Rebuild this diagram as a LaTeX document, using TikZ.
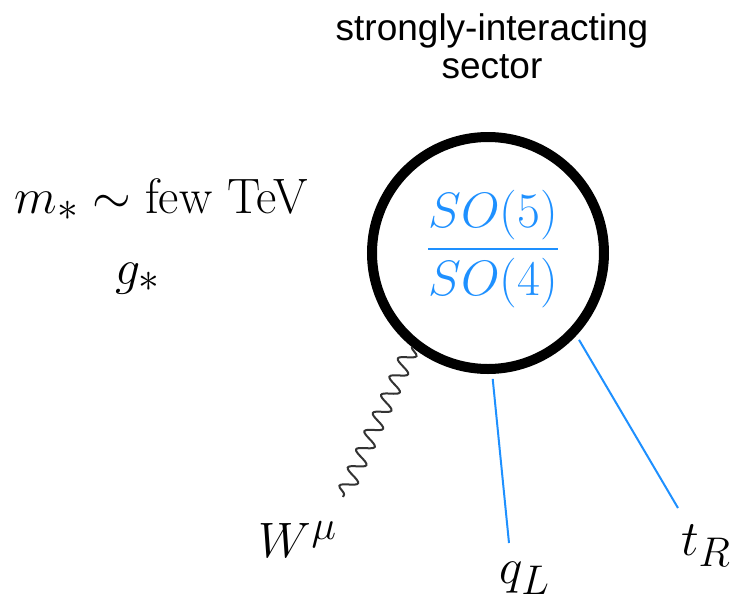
\documentclass[tikz,border=0pt]{standalone}
\usepackage{amsmath}
\usepackage{fontspec}
\setsansfont{Liberation Sans}
\usetikzlibrary{decorations.pathmorphing}
\definecolor{cosetblue}{RGB}{30,144,255}

\begin{document}
\begin{tikzpicture}[
    x=0.5pt, y=-0.5pt,
    blob/.style={draw, circle, line width=5pt, minimum size=116pt, inner sep=0pt},
    gauge/.style={decorate, decoration={snake, amplitude=4pt, segment length=10pt}, line width=1pt, black!80},
    fermion/.style={cosetblue, line width=1pt, shorten <=2.5pt},
    mathtxt/.style={font=\fontsize{24.88}{30}\selectfont, inner sep=0pt},
    note/.style={align=center, font=\sffamily\fontsize{18.5}{19}\selectfont, inner sep=0pt}
]
    \useasboundingbox (0,0) rectangle (736,601);

    \node[note, anchor=north] (title) at (492,13) {strongly-interacting\\sector};
    \node[mathtxt, anchor=base] (mass) at (161,213) {$m_* \sim \text{few TeV}$};
    \node[mathtxt, anchor=base] (coupling) at (138,284) {$g_*$};

    \node[blob] (sector) at (488,253) {};
    \node[mathtxt, text=cosetblue] (coset) at (493,249) {$\dfrac{SO(5)}{SO(4)}$};

    \coordinate (wend) at (343,497);
    \coordinate (qend) at (509,543);
    \coordinate (tend) at (678,508);
    \draw[gauge] (sector.231) -- (wend);
    \draw[fermion] (sector.272.3) -- (qend);
    \draw[fermion] (sector.317.3) -- (tend);

    \node[mathtxt] (wlbl) at (298,540) {$W^\mu$};
    \node[mathtxt] (qlbl) at (525,578) {$q_L$};
    \node[mathtxt] (tlbl) at (706,546) {$t_R$};
\end{tikzpicture}
\end{document}
